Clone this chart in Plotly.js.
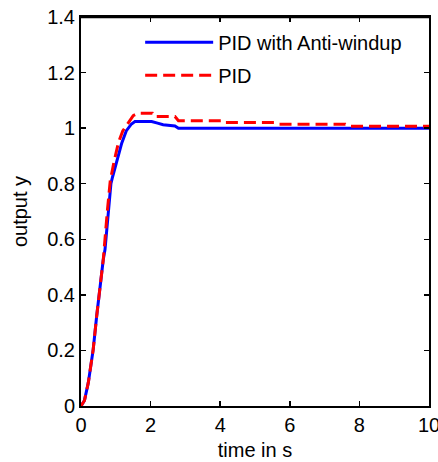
<!DOCTYPE html>
<html>
<head>
<meta charset="utf-8">
<script src="https://cdn.plot.ly/plotly-3.0.1.min.js"></script>
<style>
html,body{margin:0;padding:0;background:#fff;}
#chart{width:438px;height:462px;}
</style>
</head>
<body>
<div id="chart"></div>
<script>
// Data
var tAntiWindup = [0, 0.1, 0.21, 0.35, 0.45, 0.55, 0.64, 0.69, 0.78, 0.86, 0.91, 1.03, 1.17, 1.3, 1.45, 1.55, 2.03, 2.2, 2.36, 2.7, 2.8, 10];
var yAntiWindup = [0, 0.02, 0.084, 0.203, 0.323, 0.444, 0.527, 0.563, 0.706, 0.80, 0.826, 0.886, 0.946, 0.99, 1.015, 1.024, 1.024, 1.018, 1.012, 1.008, 1.0, 1.0];
var tPID = [0, 0.1, 0.21, 0.35, 0.45, 0.55, 0.64, 0.76, 0.84, 0.95, 1.08, 1.2, 1.35, 1.5, 1.65, 2.05, 2.1, 2.7, 2.8, 4.05, 4.1, 5.6, 5.7, 7.6, 7.7, 10];
var yPID = [0, 0.02, 0.084, 0.203, 0.323, 0.444, 0.527, 0.706, 0.81, 0.88, 0.95, 0.99, 1.02, 1.045, 1.054, 1.054, 1.042, 1.042, 1.027, 1.027, 1.02, 1.02, 1.014, 1.014, 1.007, 1.007];
var seriesNames = ['PID with Anti-windup', 'PID'];
var xTicks = [0, 2, 4, 6, 8, 10];
var yTicks = [0, 0.2, 0.4, 0.6, 0.8, 1, 1.2, 1.4];
var yTickText = ['0', '0.2', '0.4', '0.6', '0.8', '1', '1.2', '1.4'];

var font = 'Liberation Sans, Arial, Helvetica, sans-serif';
var fs = 20;
var traces = [
  {x: tAntiWindup, y: yAntiWindup, name: seriesNames[0], mode: 'lines', legendgroup: 'a',
   line: {color: '#0000ff', width: 3}},
  {x: tPID, y: yPID, name: seriesNames[1], mode: 'lines', legendgroup: 'b',
   line: {color: '#ff0000', width: 3, dash: '12px,6px'}}
];
var axisCommon = {
  showline: true, linecolor: '#000', linewidth: 2, mirror: 'ticks',
  ticks: 'inside', ticklen: 5, tickwidth: 1.5, tickcolor: '#000',
  showgrid: false, zeroline: false, ticklabeloverflow: 'allow',
  tickfont: {family: font, size: fs, color: '#000'}
};
var layout = {
  width: 438, height: 462,
  margin: {l: 81, r: 9, t: 17, b: 56},
  paper_bgcolor: '#fff', plot_bgcolor: '#fff',
  font: {family: font, size: fs, color: '#000'},
  xaxis: Object.assign({}, axisCommon, {
    range: [0, 10], tickvals: xTicks, ticktext: xTicks.map(String),
    title: {text: 'time in s', font: {family: font, size: fs, color: '#000'}, standoff: 8}
  }),
  yaxis: Object.assign({}, axisCommon, {
    range: [0, 1.4], tickvals: yTicks, ticktext: yTickText,
    title: {text: 'output y', font: {family: font, size: fs, color: '#000'}, standoff: 14}
  }),
  shapes: [{type: 'rect', xref: 'paper', yref: 'paper', x0: -0.003, x1: 1.003, y0: 0.997, y1: 1.003,
            line: {width: 0}, fillcolor: '#000', layer: 'above'}],
  legend: {
    x: 0.17, y: 0.985, xanchor: 'left', yanchor: 'top',
    bgcolor: 'rgba(0,0,0,0)', borderwidth: 0,
    font: {family: font, size: fs, color: '#000'},
    itemwidth: 68, tracegroupgap: 4, traceorder: 'grouped'
  },
  showlegend: true
};
Plotly.newPlot('chart', traces, layout, {displayModeBar: false, staticPlot: true});
</script>
</body>
</html>
